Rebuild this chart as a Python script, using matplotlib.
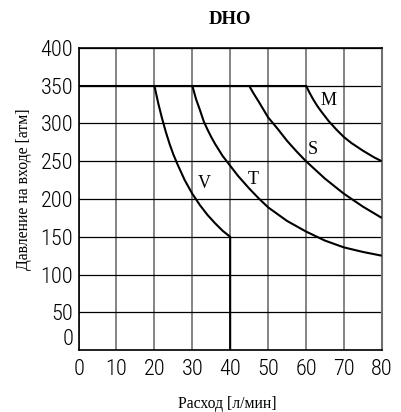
import matplotlib
matplotlib.use("Agg")
import matplotlib.pyplot as plt

# plateau at max pressure
plateau_x = [0, 60]
plateau_y = [350, 350]

# curves (flow l/min, pressure atm)
V_x = [20, 21, 22, 23, 24, 25, 26, 27, 28, 29, 30, 32, 34, 36, 38, 40, 40]
V_y = [350, 327, 307, 289, 273, 259, 247, 236, 225, 216, 207, 192, 179, 168, 158, 150, 0]

T_x = [30, 31, 32, 33, 34, 35, 36, 38, 40, 42, 45, 47.5, 50, 55, 60, 65, 70, 75, 80]
T_y = [350, 332, 318, 303, 292, 282, 273, 257, 244, 231, 214, 201, 189, 171, 157, 145, 136, 130, 125]

S_x = [45, 46, 47.5, 50, 52.5, 55, 57.5, 60, 65, 70, 75, 80]
S_y = [350, 341, 329, 308, 293, 277, 263, 250, 227, 207, 190, 175]

M_x = [60, 61, 62, 63, 64, 66, 68, 70, 72, 75, 78, 80]
M_y = [350, 340, 331, 323, 316, 303, 292, 282, 274, 264, 255, 250]

labels = ["V", "T", "S", "M"]
label_pos = [(33.2, 221), (46.2, 226), (61.9, 265), (66, 330)]

x_ticks = list(range(0, 81, 10))
y_ticks = list(range(0, 401, 50))

fig = plt.figure(figsize=(4.01, 4.12), dpi=100)
ax = fig.add_axes([0.196, 0.150, 0.756, 0.734])

tick_font = ['Liberation Sans Narrow', 'Roboto Condensed', 'Roboto', 'DejaVu Sans']
serif = ['Liberation Serif', 'DejaVu Serif']

# grid
for xv in x_ticks:
    ax.axvline(xv, color='#707070', lw=1.2, zorder=1)
for yv in y_ticks:
    ax.axhline(yv, color='black', lw=0.9, zorder=1)

lw = 1.5
ax.plot(plateau_x, plateau_y, color='black', lw=lw, zorder=3)
for xs, ys in [(V_x, V_y), (T_x, T_y), (S_x, S_y), (M_x, M_y)]:
    ax.plot(xs, ys, color='black', lw=lw, zorder=3,
            solid_joinstyle='round', solid_capstyle='butt')

for lab, (lx, ly) in zip(labels, label_pos):
    ax.text(lx, ly, lab, ha='center', va='center', fontsize=13,
            family=serif, zorder=4)

ax.set_xlim(0, 80)
ax.set_ylim(0, 400)
ax.set_xticks(x_ticks)
ax.set_yticks(y_ticks)
ax.tick_params(length=0, labelsize=16)
ax.tick_params(axis='x', pad=6)
ax.tick_params(axis='y', pad=4)
for t in ax.get_xticklabels() + ax.get_yticklabels():
    t.set_family(tick_font)
    t.set_fontweight('light')
ax.get_yticklabels()[0].set_va('bottom')

for side in ['left', 'bottom', 'top']:
    ax.spines[side].set_color('black')
    ax.spines[side].set_linewidth(1.2)
ax.spines['right'].set_color('#707070')
ax.spines['right'].set_linewidth(1.5)

ax.set_title('DHO', fontsize=13.5, fontweight='bold', family=serif, pad=17)
ax.set_xlabel('Расход [л/мин]', fontsize=11.3, family=serif)
ax.set_ylabel('Давление на входе [атм]', fontsize=11.3, family=serif)
ax.xaxis.set_label_coords(0.4916, -0.151)
ax.xaxis.label.set_va('top')
ax.yaxis.set_label_coords(-0.155, 0.533)

fig.savefig('out.png', dpi=100)
